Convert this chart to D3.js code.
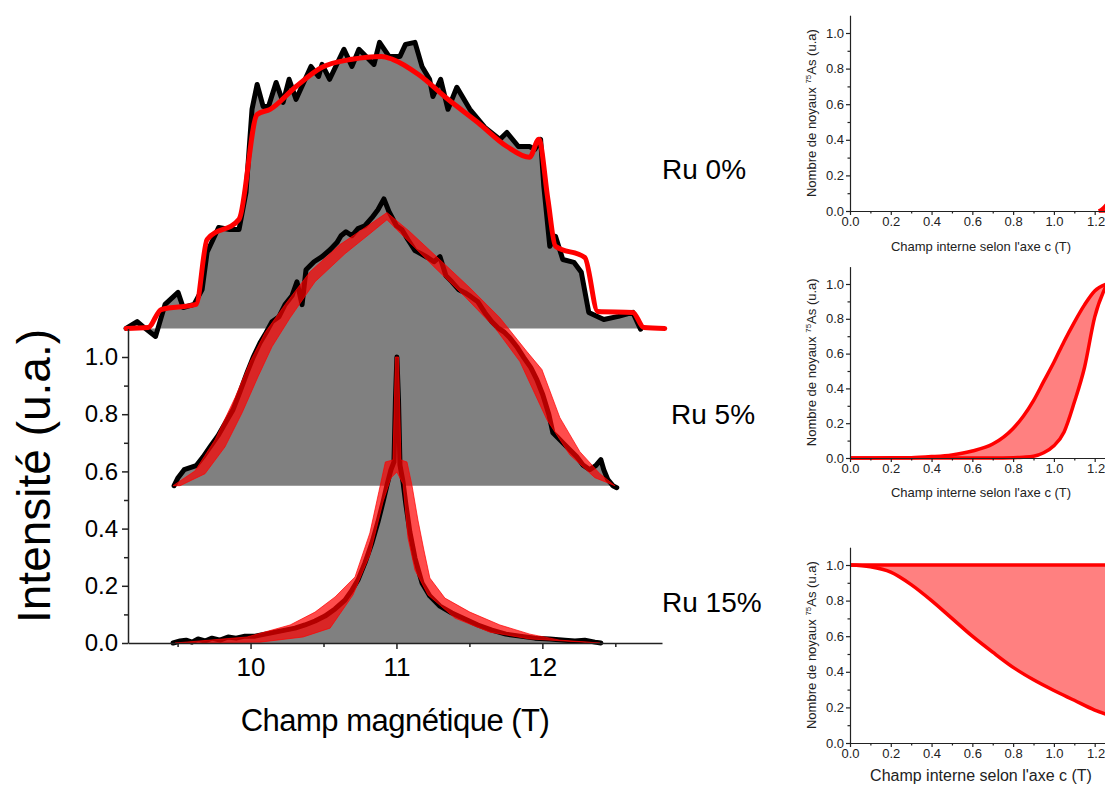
<!DOCTYPE html>
<html><head><meta charset="utf-8">
<script src="https://cdn.jsdelivr.net/npm/d3@7"></script>
<style>body{margin:0;background:#fff} svg{display:block} text{font-family:"Liberation Sans",Arial,sans-serif}</style>
</head><body><svg id="c" width="1105" height="786"></svg>
<script>
// ---------- DATA (main panel: field in T, normalized intensity) ----------
const seriesLabels = ["Ru 0%", "Ru 5%", "Ru 15%"];
const seriesOffsets = [1.1, 0.55, 0];

const ru0DataField = [9.147,9.223,9.271,9.349,9.414,9.503,9.538,9.613,9.668,9.702,9.781,9.857,9.921,9.969,10.010,10.045,10.086,10.123,10.175,10.223,10.264,10.312,10.414,10.466,10.490,10.542,10.640,10.695,10.743,10.846,10.884,10.949,11.024,11.062,11.127,11.175,11.227,11.250,11.303,11.353,11.414,11.503,11.606,11.709,11.757,11.836,11.912,11.949,11.988,12.010,12.051,12.090,12.140,12.216,12.267,12.318,12.421,12.521,12.620,12.673];
const ru0DataInt = [0,0.024,0.003,-0.028,0.084,0.126,0.073,0.084,0.136,0.266,0.353,0.346,0.346,0.476,0.766,0.853,0.776,0.776,0.860,0.790,0.871,0.801,0.916,0.881,0.923,0.871,0.976,0.916,0.976,0.923,1.000,0.951,0.951,0.993,1.000,0.916,0.871,0.811,0.871,0.766,0.843,0.766,0.703,0.661,0.685,0.636,0.636,0.626,0.661,0.497,0.287,0.322,0.241,0.231,0.196,0.056,0.031,0.042,0.056,-0.003];
const ru0FitField = [9.147,9.298,9.387,9.627,9.702,9.921,10.045,10.134,10.312,10.490,10.695,10.897,10.973,11.151,11.353,11.558,11.757,11.912,11.976,12.038,12.090,12.291,12.380,12.620,12.695,12.839];
const ru0FitInt = [0,0.003,0.066,0.084,0.311,0.381,0.748,0.766,0.846,0.913,0.941,0.951,0.941,0.888,0.801,0.720,0.636,0.598,0.661,0.451,0.287,0.248,0.059,0.056,0.003,0];

const ru5DataField = [9.476,9.503,9.545,9.586,9.627,9.675,9.723,9.777,9.832,9.880,9.928,9.976,10.017,10.065,10.106,10.147,10.195,10.236,10.284,10.318,10.353,10.380,10.435,10.490,10.545,10.592,10.620,10.654,10.695,10.736,10.784,10.832,10.873,10.914,10.949,11.000,11.038,11.079,11.127,11.168,11.216,11.257,11.298,11.339,11.380,11.428,11.469,11.510,11.558,11.606,11.654,11.695,11.736,11.777,11.825,11.873,11.921,11.962,12.003,12.045,12.072,12.106,12.147,12.188,12.236,12.277,12.325,12.366,12.401,12.421,12.449,12.483,12.510];
const ru5DataInt = [0,0.028,0.056,0.063,0.070,0.101,0.136,0.175,0.224,0.266,0.329,0.395,0.448,0.500,0.535,0.573,0.591,0.633,0.664,0.713,0.633,0.755,0.783,0.801,0.825,0.850,0.874,0.888,0.874,0.899,0.909,0.937,0.965,1.003,0.958,0.909,0.895,0.860,0.822,0.811,0.797,0.783,0.801,0.734,0.713,0.685,0.675,0.661,0.643,0.605,0.573,0.552,0.538,0.517,0.486,0.448,0.413,0.371,0.318,0.248,0.185,0.168,0.147,0.126,0.101,0.073,0.056,0.070,0.091,0.056,0.021,0,-0.007];
const ru5BandHighField = [9.469,9.620,9.757,9.894,9.997,10.099,10.236,10.408,10.613,10.784,10.935,11.092,11.298,11.503,11.709,11.894,11.997,12.120,12.257,12.394,12.497];
const ru5BandHighInt = [0,0.052,0.161,0.308,0.434,0.535,0.633,0.748,0.843,0.902,0.955,0.888,0.790,0.692,0.587,0.469,0.406,0.238,0.119,0.042,0];
const ru5BandLowField = [9.517,9.688,9.825,9.942,10.051,10.147,10.271,10.442,10.647,10.818,10.935,11.058,11.264,11.469,11.675,11.846,12.031,12.188,12.360,12.497];
const ru5BandLowInt = [0,0.042,0.136,0.255,0.381,0.486,0.587,0.713,0.811,0.881,0.930,0.867,0.762,0.661,0.552,0.434,0.231,0.108,0.028,0];

const ru15DataField = [9.469,9.517,9.558,9.599,9.640,9.688,9.736,9.791,9.846,9.901,9.962,10.031,10.099,10.168,10.236,10.305,10.373,10.442,10.510,10.579,10.647,10.695,10.736,10.784,10.832,10.873,10.908,10.935,10.962,10.983,10.993,11.003,11.014,11.024,11.045,11.065,11.092,11.127,11.175,11.229,11.298,11.380,11.469,11.558,11.654,11.750,11.846,11.949,12.051,12.154,12.223,12.291,12.360,12.401];
const ru15DataInt = [0,0.007,0.010,0.003,0.014,0.007,0.017,0.010,0.021,0.017,0.024,0.024,0.031,0.038,0.045,0.052,0.063,0.077,0.094,0.119,0.150,0.185,0.220,0.280,0.350,0.423,0.493,0.552,0.605,0.633,0.850,1.000,0.850,0.622,0.563,0.483,0.388,0.297,0.210,0.164,0.129,0.105,0.084,0.063,0.045,0.031,0.024,0.017,0.014,0.010,0.007,0.010,0.003,0];
const ru15BandHighField = [9.483,9.976,10.271,10.442,10.579,10.716,10.818,10.880,10.924,10.976,10.993,11.014,11.031,11.072,11.106,11.147,11.188,11.229,11.332,11.503,11.709,11.914,12.120,12.394];
const ru15BandHighInt = [0,0.021,0.063,0.108,0.161,0.231,0.385,0.530,0.633,0.640,1.0,1.0,0.640,0.633,0.552,0.430,0.325,0.227,0.157,0.108,0.063,0.031,0.010,0];
const ru15BandLowField = [9.483,10.065,10.360,10.545,10.702,10.818,10.908,10.962,11.003,11.045,11.079,11.127,11.216,11.401,11.640,11.914,12.394];
const ru15BandLowInt = [0,0.003,0.021,0.052,0.168,0.308,0.493,0.577,0.598,0.556,0.367,0.255,0.168,0.087,0.038,0.014,0];

const mainXTicks = [10, 11, 12];
const mainXMinor = [9.5, 10.5, 11.5, 12.5];
const mainYTicks = [0, 0.2, 0.4, 0.6, 0.8, 1.0];
const mainYMinor = [0.1, 0.3, 0.5, 0.7, 0.9];

// ---------- DATA (insets: internal field distribution) ----------
const inset1Field = [1.22, 1.24, 1.26];
const inset1Upper = [0, 0.015, 0.04];
const inset1Lower = [0, 0, 0];
const inset2Field = [0,0.1,0.2,0.3,0.4,0.5,0.6,0.7,0.8,0.85,0.9,0.95,1.0,1.05,1.1,1.15,1.2,1.26];
const inset2Upper = [0,0,0.001,0.002,0.008,0.018,0.04,0.08,0.17,0.24,0.33,0.44,0.55,0.67,0.78,0.88,0.96,1.0];
const inset2Lower = [0,0,0,0,0,0,0,0,0.002,0.005,0.01,0.03,0.07,0.15,0.32,0.52,0.81,1.0];
const inset3Field = [0,0.1,0.2,0.3,0.4,0.5,0.6,0.7,0.8,0.9,1.0,1.1,1.2,1.26];
const inset3Upper = [1,1,1,1,1,1,1,1,1,1,1,1,1,1];
const inset3Lower = [1.0,0.99,0.96,0.89,0.80,0.70,0.60,0.51,0.425,0.355,0.295,0.24,0.185,0.16];
const insetXTicks = [0,0.2,0.4,0.6,0.8,1.0,1.2];
const insetXMinor = [0.1,0.3,0.5,0.7,0.9,1.1];
const insetYTicks = [0,0.2,0.4,0.6,0.8,1.0];
const insetYMinor = [0.1,0.3,0.5,0.7,0.9];

// ---------- DRAW ----------
const svg = d3.select("#c");
const x = d3.scaleLinear().domain([9.16, 12.82]).range([128, 662]);
const y = d3.scaleLinear().domain([0, 1.1]).range([643, 328.4]);
const GRAY = "#808080";

function toPts(fs, vs, off){ return fs.map((f,i)=>[x(f), y(vs[i]+off)]); }
const line = d3.line();
const smooth = d3.line().curve(d3.curveMonotoneX);

const main = svg.append("g");
const series = [
  {df: ru0DataField, dv: ru0DataInt, fitF: ru0FitField, fitV: ru0FitInt},
  {df: ru5DataField, dv: ru5DataInt, hiF: ru5BandHighField, hiV: ru5BandHighInt, loF: ru5BandLowField, loV: ru5BandLowInt},
  {df: ru15DataField, dv: ru15DataInt, hiF: ru15BandHighField, hiV: ru15BandHighInt, loF: ru15BandLowField, loV: ru15BandLowInt}
];
series.forEach((s, k) => {
  const off = seriesOffsets[k];
  const area = d3.area().x((d)=>x(d[0])).y0(y(off)).y1(d=>y(d[1]+off));
  const pairs = s.df.map((f,i)=>[f, s.dv[i]]);
  main.append("path").attr("d", area(pairs)).attr("fill", GRAY);
  main.append("path").attr("d", line(toPts(s.df, s.dv, off)))
    .attr("fill","none").attr("stroke","#000").attr("stroke-width",5)
    .attr("stroke-linejoin","round").attr("stroke-linecap","round");
  if (s.fitF) {
    main.append("path").attr("d", smooth(toPts(s.fitF, s.fitV, off)))
      .attr("fill","none").attr("stroke","#ff0000").attr("stroke-width",5)
      .attr("stroke-linejoin","round").attr("stroke-linecap","round");
  } else {
    const poly = toPts(s.hiF, s.hiV, off).concat(toPts(s.loF, s.loV, off).reverse());
    main.append("path").attr("d", line(poly) + "Z")
      .attr("fill","#ff0000").attr("fill-opacity",0.7)
      .attr("stroke","#ff0000").attr("stroke-opacity",0.7).attr("stroke-width",1);
  }
});

// main axes
function styleAxis(g){
  g.select(".domain").attr("stroke","#222").attr("stroke-width",1.5);
  g.selectAll(".tick line").attr("stroke","#222").attr("stroke-width",1.5);
  g.selectAll(".tick text").attr("fill","#000").attr("font-family","'Liberation Sans',Arial,sans-serif");
}
const xAxis = svg.append("g").attr("transform","translate(0,643)")
  .call(d3.axisBottom(x).tickValues(mainXTicks).tickFormat(d3.format("d")).tickSize(6).tickSizeOuter(0).tickPadding(9));
styleAxis(xAxis); xAxis.selectAll(".tick text").attr("font-size",26);
const xAxisMinor = svg.append("g").attr("transform","translate(0,643)")
  .call(d3.axisBottom(x).tickValues(mainXMinor).tickFormat("").tickSize(4).tickSizeOuter(0));
styleAxis(xAxisMinor); xAxisMinor.select(".domain").remove();

const yAxis = svg.append("g").attr("transform","translate(128,0)")
  .call(d3.axisLeft(y).tickValues(mainYTicks).tickFormat(d3.format(".1f")).tickSize(6).tickSizeOuter(0).tickPadding(4));
styleAxis(yAxis); yAxis.selectAll(".tick text").attr("font-size",24);
const yAxisMinor = svg.append("g").attr("transform","translate(128,0)")
  .call(d3.axisLeft(y).tickValues(mainYMinor).tickFormat("").tickSize(4).tickSizeOuter(0));
styleAxis(yAxisMinor); yAxisMinor.select(".domain").remove();

svg.append("text").attr("transform","translate(50,476) rotate(-90)").attr("text-anchor","middle")
  .attr("font-size",46).attr("fill","#000").text("Intensité (u.a.)");
svg.append("text").attr("x",395).attr("y",731).attr("text-anchor","middle")
  .attr("font-size",31).attr("letter-spacing","-0.5").attr("fill","#000").text("Champ magnétique (T)");

const labelPos = [[662,179],[671,424],[662,612]];
seriesLabels.forEach((t,i)=>{
  svg.append("text").attr("x",labelPos[i][0]).attr("y",labelPos[i][1])
    .attr("font-size",28).attr("fill","#000").text(t);
});

// insets
const insets = [
  {f: inset1Field, up: inset1Upper, lo: inset1Lower, y0: 211, y1: 33, titleY: 251, titleSize: 13},
  {f: inset2Field, up: inset2Upper, lo: inset2Lower, y0: 458, y1: 284, titleY: 497, titleSize: 13},
  {f: inset3Field, up: inset3Upper, lo: inset3Lower, y0: 743, y1: 565, titleY: 781, titleSize: 16}
];
const ix = d3.scaleLinear().domain([0, 1.28]).range([850, 1111]);
insets.forEach((p, k) => {
  const iy = d3.scaleLinear().domain([0, 1]).range([p.y0, p.y1]);
  const g = svg.append("g");
  const area = d3.area().x(d=>ix(d[0])).y0(d=>iy(d[2])).y1(d=>iy(d[1])).curve(d3.curveMonotoneX);
  const rows = p.f.map((f,i)=>[f, p.up[i], p.lo[i]]);
  g.append("path").attr("d", area(rows)).attr("fill","#ff8080");
  const l = d3.line().curve(d3.curveMonotoneX);
  g.append("path").attr("d", l(p.f.map((f,i)=>[ix(f), iy(p.up[i])]))).attr("fill","none").attr("stroke","#ff0000").attr("stroke-width",3.5);
  g.append("path").attr("d", l(p.f.map((f,i)=>[ix(f), iy(p.lo[i])]))).attr("fill","none").attr("stroke","#ff0000").attr("stroke-width",3.5);

  const iyAxisScale = d3.scaleLinear().domain([0,1.1]).range([p.y0, p.y0 - 1.1*(p.y0-p.y1)]);
  const ax = svg.append("g").attr("transform",`translate(0,${p.y0})`)
    .call(d3.axisBottom(ix).tickValues(insetXTicks).tickFormat(d3.format(".1f")).tickSize(4).tickSizeOuter(0).tickPadding(2));
  const axm = svg.append("g").attr("transform",`translate(0,${p.y0})`)
    .call(d3.axisBottom(ix).tickValues(insetXMinor).tickFormat("").tickSize(2.5).tickSizeOuter(0));
  const ay = svg.append("g").attr("transform","translate(850,0)")
    .call(d3.axisLeft(iyAxisScale).tickValues(insetYTicks).tickFormat(d3.format(".1f")).tickSize(4).tickSizeOuter(0).tickPadding(2));
  const aym = svg.append("g").attr("transform","translate(850,0)")
    .call(d3.axisLeft(iyAxisScale).tickValues(insetYMinor).tickFormat("").tickSize(2.5).tickSizeOuter(0));
  [ax, axm, ay, aym].forEach(a=>{
    a.select(".domain").attr("stroke","#222").attr("stroke-width",1.2);
    a.selectAll(".tick line").attr("stroke","#222").attr("stroke-width",1.2);
    a.selectAll(".tick text").attr("font-size",13).attr("fill","#222").attr("font-family","'Liberation Sans',Arial,sans-serif");
  });
  ax.selectAll(".tick text").filter(d=>d===1.2).attr("text-anchor","end").attr("dx","10");
  axm.select(".domain").remove(); aym.select(".domain").remove();

  const cy = (p.y0 + iyAxisScale(1.1)) / 2;
  const t = svg.append("text").attr("transform",`translate(816,${cy}) rotate(-90)`).attr("text-anchor","middle")
    .attr("font-size",13).attr("fill","#222");
  t.append("tspan").text("Nombre de noyaux ");
  t.append("tspan").attr("font-size",8).attr("dy",-5).text("75");
  t.append("tspan").attr("dy",5).text("As (u.a)");
  svg.append("text").attr("x",981).attr("y",p.titleY).attr("text-anchor","middle")
    .attr("font-size",p.titleSize).attr("fill","#222").text("Champ interne selon l'axe c (T)");
});
</script></body></html>
